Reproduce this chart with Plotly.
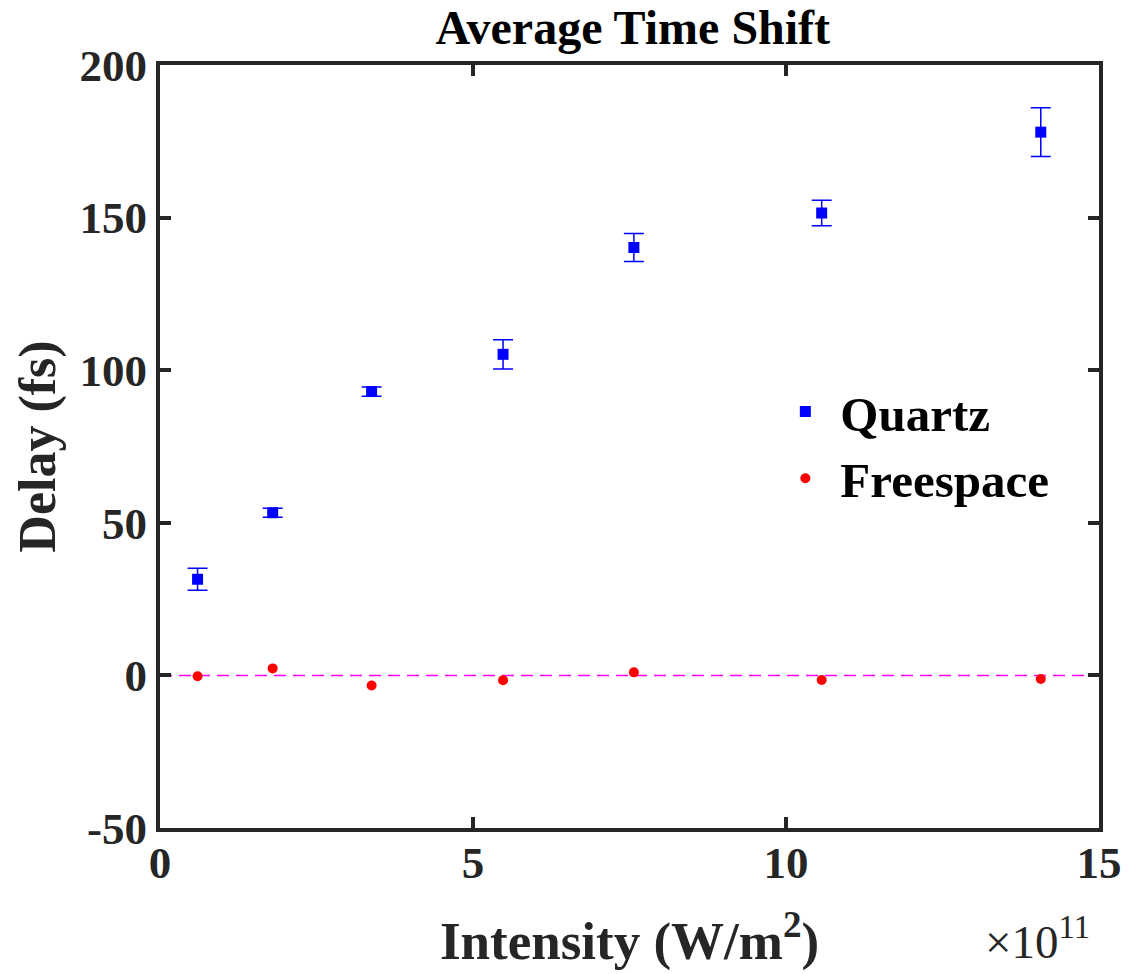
import plotly.graph_objects as go

# Data (intensity in units of 1e11 W/m^2, delay in fs)
intensity = [0.6, 1.8, 3.38, 5.48, 7.57, 10.57, 14.07]
quartz_delay = [31.5, 53.3, 93.0, 105.2, 140.2, 151.5, 178.0]
quartz_err = [3.6, 1.5, 1.5, 4.8, 4.6, 4.2, 8.0]
freespace_delay = [-0.3, 2.3, -3.3, -1.6, 1.0, -1.5, -1.2]
ref_x = [0, 15]
ref_y = [0, 0]
x_ticks = [0, 5, 10, 15]
y_ticks = [-50, 0, 50, 100, 150, 200]
y_ticklabels = ["-50", "0", "50", "100", "150", "200"]

FONT = "Liberation Serif"
AX = "#262626"

fig = go.Figure()

fig.add_trace(go.Scatter(
    x=ref_x, y=ref_y, mode="lines",
    line=dict(color="#FF00FF", width=1.5, dash="12px,7px"),
    showlegend=False, hoverinfo="skip"))

fig.add_trace(go.Scatter(
    x=intensity, y=quartz_delay, mode="markers", name="Quartz",
    legendgroup="q",
    marker=dict(symbol="square", size=11, color="#0000FF"),
    error_y=dict(type="data", array=quartz_err, visible=True,
                 color="#0000FF", thickness=1.5, width=10)))

fig.add_trace(go.Scatter(
    x=intensity, y=freespace_delay, mode="markers", name="Freespace",
    legendgroup="f",
    marker=dict(symbol="circle", size=10, color="#FF0000")))

axis_common = dict(
    showgrid=False, zeroline=False, showline=True, linewidth=4,
    linecolor=AX, mirror="allticks", ticks="inside", ticklen=11,
    tickwidth=4, tickcolor=AX,
    tickfont=dict(family=FONT, size=45, color=AX, weight="bold"),
)

fig.update_layout(
    width=1134, height=974,
    margin=dict(l=160, r=29, t=65, b=146),
    plot_bgcolor="white", paper_bgcolor="white",
    title=dict(text="<b>Average Time Shift</b>", x=0.558, xanchor="center",
               y=0.972, yanchor="middle",
               font=dict(family=FONT, size=48, color="black")),
    xaxis=dict(range=[0, 15], tickvals=x_ticks, ticklabelstandoff=-8,
               title=dict(text="<b>Intensity (W/m<sup>2</sup>)</b>",
                          font=dict(family=FONT, size=53, color=AX),
                          standoff=36),
               **axis_common),
    yaxis=dict(range=[-50, 200], tickvals=y_ticks, ticktext=y_ticklabels,
               title=dict(text="<b>Delay (fs)</b>",
                          font=dict(family=FONT, size=52, color=AX),
                          standoff=8),
               **axis_common),
    legend=dict(x=0.65, y=0.596, xanchor="left", yanchor="top",
                bgcolor="rgba(0,0,0,0)", tracegroupgap=0, itemwidth=60,
                font=dict(family=FONT, size=49, color="black", weight="bold")),
    showlegend=True,
)

fig.add_annotation(
    text="×10<sup>11</sup>", xref="paper", yref="paper",
    x=0.935, y=-0.145, xanchor="center", yanchor="middle",
    showarrow=False, font=dict(family=FONT, size=47, color=AX))

fig.write_html("out.html")
